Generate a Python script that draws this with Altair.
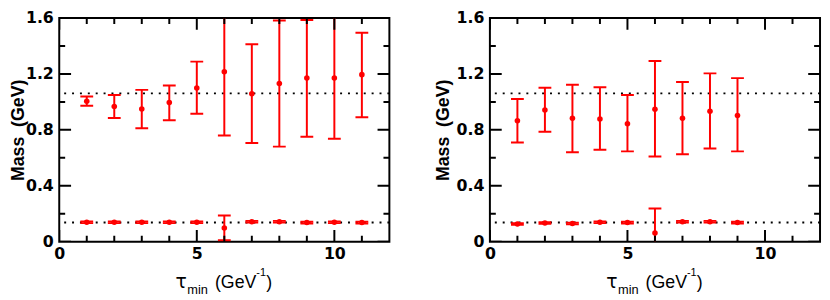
import altair as alt
import pandas as pd

# ---------------- data ----------------
tau_left = [1, 2, 3, 4, 5, 6, 7, 8, 9, 10, 11]
heavy_left = [1.004, 0.967, 0.949, 0.995, 1.099, 1.215, 1.058, 1.131, 1.170, 1.170, 1.195]
heavy_left_hi = [1.038, 1.049, 1.086, 1.117, 1.288, 1.680, 1.413, 1.582, 1.586, 1.640, 1.495]
heavy_left_lo = [0.972, 0.885, 0.812, 0.869, 0.915, 0.760, 0.706, 0.680, 0.751, 0.737, 0.890]
light_left = [0.139, 0.139, 0.139, 0.139, 0.139, 0.098, 0.143, 0.143, 0.137, 0.139, 0.137]
light_left_hi = [0.145, 0.145, 0.145, 0.145, 0.145, 0.187, 0.149, 0.149, 0.143, 0.145, 0.143]
light_left_lo = [0.133, 0.133, 0.133, 0.133, 0.133, 0.011, 0.137, 0.137, 0.131, 0.133, 0.131]

tau_right = [1, 2, 3, 4, 5, 6, 7, 8, 9]
heavy_right = [0.865, 0.942, 0.883, 0.878, 0.844, 0.947, 0.883, 0.933, 0.903]
heavy_right_hi = [1.020, 1.101, 1.122, 1.104, 1.049, 1.293, 1.142, 1.204, 1.170]
heavy_right_lo = [0.710, 0.787, 0.640, 0.658, 0.646, 0.610, 0.626, 0.667, 0.646]
light_right = [0.127, 0.134, 0.130, 0.139, 0.137, 0.062, 0.143, 0.143, 0.137]
light_right_hi = [0.133, 0.140, 0.136, 0.145, 0.143, 0.238, 0.149, 0.149, 0.143]
light_right_lo = [0.121, 0.128, 0.124, 0.133, 0.131, -0.100, 0.137, 0.137, 0.131]

ref_lines = [1.061, 0.138]

x_major = [0, 5, 10]
x_minor = [1, 2, 3, 4, 6, 7, 8, 9, 11]
y_major = [0, 0.4, 0.8, 1.2, 1.6]
y_minor = [0.2, 0.6, 1.0, 1.4]

y_title = "Mass\u00a0 (GeV)"
x_title_parts = ["τ", "min", "(GeV", "-1", ")"]

# ---------------- styling ----------------
W, H = 335, 227
RED = "#ff0000"
MAJ, MIN = 12, 6


def panel(tau, m, hi, lo, m2, hi2, lo2, title_pad):
    df = pd.DataFrame({
        "tau": tau + tau,
        "mass": m + m2,
        "hi": hi + hi2,
        "lo": lo + lo2,
    })
    xs = alt.Scale(domain=[0, 12], nice=False, zero=False)
    ys = alt.Scale(domain=[0, 1.6], nice=False, zero=False)
    xax = alt.Axis(values=x_major, title=None, labelFlush=False, labelPadding=4)
    yax = alt.Axis(values=y_major, title=y_title, titlePadding=title_pad, labelPadding=6,
                   labelExpr="datum.value == 0 ? '0' : format(datum.value, '.1f')")

    X = lambda f: alt.X(f, type="quantitative", scale=xs, axis=xax)
    Y = lambda f: alt.Y(f, type="quantitative", scale=ys, axis=yax)

    dotted = alt.Chart(pd.DataFrame({"ref": ref_lines})).mark_rule(
        color="black", strokeWidth=2, strokeDash=[2, 6]
    ).encode(y=Y("ref"))

    bars = alt.Chart(df).mark_rule(color=RED, strokeWidth=2, clip=True).encode(
        x=X("tau"), y=Y("lo"), y2="hi:Q")
    cap_hi = alt.Chart(df).mark_tick(color=RED, orient="horizontal", size=13, thickness=2,
                                     opacity=1, clip=True).encode(x=X("tau"), y=Y("hi"))
    cap_lo = alt.Chart(df).mark_tick(color=RED, orient="horizontal", size=13, thickness=2,
                                     opacity=1, clip=True).encode(x=X("tau"), y=Y("lo"))
    pts = alt.Chart(df).mark_circle(color=RED, size=32, opacity=1).encode(
        x=X("tau"), y=Y("mass"))

    layers = [dotted, bars, cap_hi, cap_lo, pts]

    # inward ticks on all four sides (ticks centred on the frame, outer half clipped)
    for vals, L in [(x_major, MAJ), (x_minor, MIN)]:
        d = pd.DataFrame({"xt": vals})
        for yy in (0, H):
            layers.append(alt.Chart(d).mark_tick(
                color="black", orient="vertical", size=2 * L, thickness=2, opacity=1, clip=True
            ).encode(x=X("xt"), y=alt.value(yy)))
    for vals, L in [(y_major, MAJ), (y_minor, MIN)]:
        d = pd.DataFrame({"yt": vals})
        for xx in (0, W):
            layers.append(alt.Chart(d).mark_tick(
                color="black", orient="horizontal", size=2 * L, thickness=2, opacity=1, clip=True
            ).encode(y=Y("yt"), x=alt.value(xx)))

    # x-axis title with subscript / superscript
    specs = [
        (x_title_parts[0], "DejaVu Sans", 19, 118, H + 47),
        (x_title_parts[1], "Liberation Sans", 13, 130, H + 53),
        (x_title_parts[2], "Liberation Sans", 18, 158, H + 47),
        (x_title_parts[3], "Liberation Sans", 11, 200, H + 35),
        (x_title_parts[4], "Liberation Sans", 18, 210, H + 47),
    ]
    for txt, font, fs, px, py in specs:
        layers.append(alt.Chart(pd.DataFrame({"t": [txt]})).mark_text(
            font=font, fontSize=fs, align="left", baseline="alphabetic", color="black"
        ).encode(text="t:N", x=alt.value(px), y=alt.value(py)))

    return alt.layer(*layers).properties(width=W, height=H)


left = panel(tau_left, heavy_left, heavy_left_hi, heavy_left_lo,
             light_left, light_left_hi, light_left_lo, -2)
right = panel(tau_right, heavy_right, heavy_right_hi, heavy_right_lo,
              light_right, light_right_hi, light_right_lo, 4)

chart = alt.hconcat(left, right, spacing=42).properties(
    padding={"left": 0, "top": -1, "right": 0, "bottom": 0},
    background="white",
).configure_view(
    stroke="black", strokeWidth=2
).configure_axis(
    domain=False, ticks=False, tickSize=0, grid=False,
    labelFont="DejaVu Sans", labelFontWeight="bold", labelFontSize=16, labelColor="black",
    titleFont="Liberation Sans", titleFontWeight="bold", titleFontSize=18, titleColor="black",
)

chart.save("out.html", embed_options={"renderer": "svg", "actions": False})
